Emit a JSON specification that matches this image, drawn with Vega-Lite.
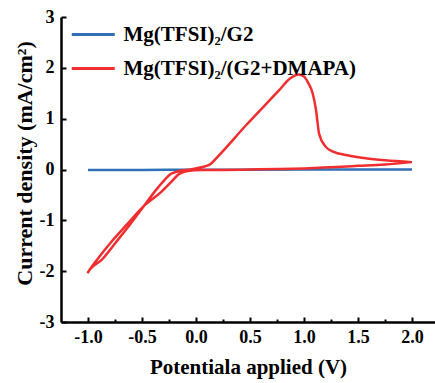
{
  "$schema": "https://vega.github.io/schema/vega-lite/v6.json",
  "autosize": {"type": "none"},
  "padding": {"left": 61, "top": 17, "right": 0, "bottom": 61},
  "width": 374,
  "height": 305,
  "background": "white",
  "view": {"stroke": null},
  "config": {
    "font": "Liberation Serif",
    "axis": {
      "domainColor": "black",
      "domainWidth": 2.5,
      "tickColor": "black",
      "tickWidth": 2,
      "grid": false,
      "labelFont": "Liberation Serif",
      "titleFont": "Liberation Serif",
      "labelFontWeight": "bold",
      "labelFontSize": 18,
      "labelColor": "black",
      "titleFontWeight": "bold",
      "titleFontSize": 21,
      "titleColor": "black"
    },
    "legend": {
      "labelFont": "Liberation Serif",
      "labelFontWeight": "bold",
      "labelFontSize": 21,
      "labelColor": "black",
      "labelLimit": 400
    }
  },
  "datasets": {
    "cv": [
      {"series": "Mg(TFSI)₂/G2", "k": 1, "v": -1.0, "j": -0.01},
      {"series": "Mg(TFSI)₂/G2", "k": 2, "v": -0.5, "j": -0.008},
      {"series": "Mg(TFSI)₂/G2", "k": 3, "v": 0.0, "j": -0.005},
      {"series": "Mg(TFSI)₂/G2", "k": 4, "v": 0.5, "j": -0.003},
      {"series": "Mg(TFSI)₂/G2", "k": 5, "v": 1.0, "j": -0.002},
      {"series": "Mg(TFSI)₂/G2", "k": 6, "v": 1.5, "j": 0.0},
      {"series": "Mg(TFSI)₂/G2", "k": 7, "v": 2.0, "j": 0.002},

      {"series": "Mg(TFSI)₂/(G2+DMAPA)", "k": 1, "v": 2.0, "j": 0.145},
      {"series": "Mg(TFSI)₂/(G2+DMAPA)", "k": 2, "v": 1.75, "j": 0.1},
      {"series": "Mg(TFSI)₂/(G2+DMAPA)", "k": 3, "v": 1.5, "j": 0.072},
      {"series": "Mg(TFSI)₂/(G2+DMAPA)", "k": 4, "v": 1.25, "j": 0.045},
      {"series": "Mg(TFSI)₂/(G2+DMAPA)", "k": 5, "v": 1.0, "j": 0.022},
      {"series": "Mg(TFSI)₂/(G2+DMAPA)", "k": 6, "v": 0.75, "j": 0.008},
      {"series": "Mg(TFSI)₂/(G2+DMAPA)", "k": 7, "v": 0.5, "j": 0.0},
      {"series": "Mg(TFSI)₂/(G2+DMAPA)", "k": 8, "v": 0.25, "j": -0.008},
      {"series": "Mg(TFSI)₂/(G2+DMAPA)", "k": 9, "v": 0.05, "j": -0.012},
      {"series": "Mg(TFSI)₂/(G2+DMAPA)", "k": 10, "v": -0.06, "j": -0.025},
      {"series": "Mg(TFSI)₂/(G2+DMAPA)", "k": 11, "v": -0.155, "j": -0.085},
      {"series": "Mg(TFSI)₂/(G2+DMAPA)", "k": 12, "v": -0.231, "j": -0.248},
      {"series": "Mg(TFSI)₂/(G2+DMAPA)", "k": 13, "v": -0.324, "j": -0.445},
      {"series": "Mg(TFSI)₂/(G2+DMAPA)", "k": 14, "v": -0.479, "j": -0.71},
      {"series": "Mg(TFSI)₂/(G2+DMAPA)", "k": 15, "v": -0.648, "j": -1.1},
      {"series": "Mg(TFSI)₂/(G2+DMAPA)", "k": 16, "v": -0.787, "j": -1.43},
      {"series": "Mg(TFSI)₂/(G2+DMAPA)", "k": 17, "v": -0.911, "j": -1.76},
      {"series": "Mg(TFSI)₂/(G2+DMAPA)", "k": 18, "v": -1.004, "j": -2.04},
      {"series": "Mg(TFSI)₂/(G2+DMAPA)", "k": 19, "v": -0.865, "j": -1.76},
      {"series": "Mg(TFSI)₂/(G2+DMAPA)", "k": 20, "v": -0.741, "j": -1.43},
      {"series": "Mg(TFSI)₂/(G2+DMAPA)", "k": 21, "v": -0.618, "j": -1.1},
      {"series": "Mg(TFSI)₂/(G2+DMAPA)", "k": 22, "v": -0.479, "j": -0.71},
      {"series": "Mg(TFSI)₂/(G2+DMAPA)", "k": 23, "v": -0.386, "j": -0.445},
      {"series": "Mg(TFSI)₂/(G2+DMAPA)", "k": 24, "v": -0.309, "j": -0.248},
      {"series": "Mg(TFSI)₂/(G2+DMAPA)", "k": 25, "v": -0.231, "j": -0.085},
      {"series": "Mg(TFSI)₂/(G2+DMAPA)", "k": 26, "v": -0.155, "j": -0.03},
      {"series": "Mg(TFSI)₂/(G2+DMAPA)", "k": 27, "v": -0.05, "j": 0.0},
      {"series": "Mg(TFSI)₂/(G2+DMAPA)", "k": 28, "v": 0.05, "j": 0.045},
      {"series": "Mg(TFSI)₂/(G2+DMAPA)", "k": 29, "v": 0.13, "j": 0.1},
      {"series": "Mg(TFSI)₂/(G2+DMAPA)", "k": 30, "v": 0.2, "j": 0.25},
      {"series": "Mg(TFSI)₂/(G2+DMAPA)", "k": 31, "v": 0.463, "j": 0.87},
      {"series": "Mg(TFSI)₂/(G2+DMAPA)", "k": 32, "v": 0.77, "j": 1.56},
      {"series": "Mg(TFSI)₂/(G2+DMAPA)", "k": 33, "v": 0.87, "j": 1.79},
      {"series": "Mg(TFSI)₂/(G2+DMAPA)", "k": 34, "v": 0.95, "j": 1.87},
      {"series": "Mg(TFSI)₂/(G2+DMAPA)", "k": 35, "v": 1.0, "j": 1.83},
      {"series": "Mg(TFSI)₂/(G2+DMAPA)", "k": 36, "v": 1.04, "j": 1.7},
      {"series": "Mg(TFSI)₂/(G2+DMAPA)", "k": 37, "v": 1.08, "j": 1.5},
      {"series": "Mg(TFSI)₂/(G2+DMAPA)", "k": 38, "v": 1.11, "j": 1.19},
      {"series": "Mg(TFSI)₂/(G2+DMAPA)", "k": 39, "v": 1.14, "j": 0.7},
      {"series": "Mg(TFSI)₂/(G2+DMAPA)", "k": 40, "v": 1.2, "j": 0.45},
      {"series": "Mg(TFSI)₂/(G2+DMAPA)", "k": 41, "v": 1.27, "j": 0.35},
      {"series": "Mg(TFSI)₂/(G2+DMAPA)", "k": 42, "v": 1.4, "j": 0.28},
      {"series": "Mg(TFSI)₂/(G2+DMAPA)", "k": 43, "v": 1.57, "j": 0.22},
      {"series": "Mg(TFSI)₂/(G2+DMAPA)", "k": 44, "v": 1.75, "j": 0.18},
      {"series": "Mg(TFSI)₂/(G2+DMAPA)", "k": 45, "v": 2.0, "j": 0.145}
    ]
  },
  "layer": [
    {
      "data": {"name": "cv"},
      "mark": {"type": "line", "strokeWidth": 2.5, "interpolate": "monotone"},
      "encoding": {
        "x": {
          "field": "v", "type": "quantitative",
          "scale": {"domain": [-1.25, 2.213], "nice": false, "zero": false},
          "axis": {
            "title": "Potentiala applied (V)",
            "values": [-1, -0.75, -0.5, -0.25, 0, 0.25, 0.5, 0.75, 1, 1.25, 1.5, 1.75, 2],
            "tickSize": {"condition": {"test": "datum.value % 0.5 !== 0", "value": -3}, "value": -5},
            "labelPadding": 11,
            "labelExpr": "datum.value % 0.5 !== 0 ? '' : replace(format(datum.value, '.1f'), '−', '-')",
            "titleBaseline": "middle",
            "titleY": 45
          }
        },
        "y": {
          "field": "j", "type": "quantitative",
          "scale": {"domain": [-3, 3], "nice": false, "zero": false},
          "axis": {
            "title": "Current density (mA/cm²)",
            "titleFontSize": 22,
            "values": [-3, -2.5, -2, -1.5, -1, -0.5, 0, 0.5, 1, 1.5, 2, 2.5, 3],
            "tickSize": {"condition": {"test": "datum.value % 1 !== 0", "value": -3}, "value": -5},
            "labelPadding": 12,
            "labelExpr": "datum.value % 1 !== 0 ? '' : replace(format(datum.value, 'd'), '−', '-')",
            "titleBaseline": "middle",
            "titleAngle": -90,
            "titleX": -37,
            "titleY": 146
          }
        },
        "order": {"field": "k", "type": "quantitative"},
        "color": {
          "field": "series", "type": "nominal",
          "scale": {
            "domain": ["Mg(TFSI)₂/G2", "Mg(TFSI)₂/(G2+DMAPA)"],
            "range": ["#2f6fb6", "#f02e30"]
          },
          "legend": {
            "title": null,
            "orient": "none",
            "legendX": 19.75,
            "legendY": 5,
            "symbolType": "M-2,0H2",
            "symbolSize": 462,
            "symbolStrokeWidth": 3,
            "symbolFillColor": "transparent",
            "labelOffset": 17.75,
            "rowPadding": 11,
            "padding": 0
          }
        }
      }
    },
    {
      "mark": {"type": "rule", "color": "black", "strokeWidth": 2.5},
      "encoding": {"y": {"datum": 3, "type": "quantitative"}}
    }
  ]
}
